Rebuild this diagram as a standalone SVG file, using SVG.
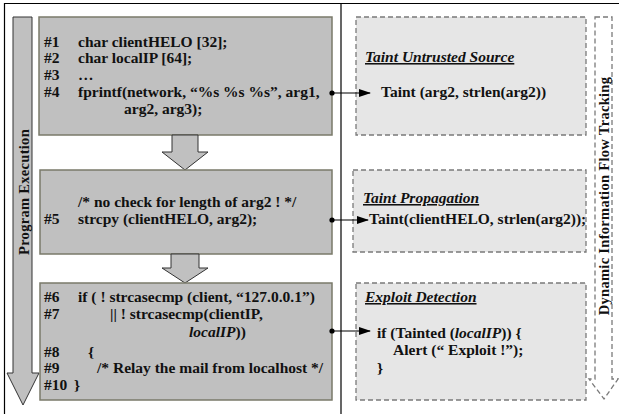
<svg xmlns="http://www.w3.org/2000/svg" width="619" height="414" viewBox="0 0 619 414">
<style>
text{font-family:"Liberation Serif","Times New Roman",serif;font-weight:bold;font-size:15.5px;fill:#111}
.vt{font-size:14.5px}
.code{fill:#c0c0c0;stroke:#7a7a6a;stroke-width:1.5}
.dash{fill:#e6e6e6;stroke:#7a7a7a;stroke-width:1.3;stroke-dasharray:5,3}
.blk{fill:#c0c0c0;stroke:#333;stroke-width:1}
.hd{font-style:italic;text-decoration:underline}
.it{font-style:italic}
.conn{stroke:#000;stroke-width:1.2;fill:none}
</style>
<defs>
<marker id="ah" markerWidth="12" markerHeight="8" refX="11" refY="4" orient="auto" markerUnits="userSpaceOnUse"><path d="M0,0 L12,4 L0,8 Z" fill="#000"/></marker>
<marker id="dot" markerWidth="6" markerHeight="6" refX="3" refY="3" markerUnits="userSpaceOnUse"><circle cx="3" cy="3" r="2.6" fill="#000"/></marker>
</defs>
<rect x="0" y="0" width="619" height="414" fill="#fff"/>
<path d="M4.5,414 V3.5 H619" fill="none" stroke="#000" stroke-width="1.2"/>
<line x1="341" y1="3" x2="341" y2="414" stroke="#000" stroke-width="1.2"/>

<g id="program-execution">
<path class="blk" d="M13,17 H32 V373 H39 L23,405 L7,373 H13 Z"/>
<text class="vt" transform="translate(28.5,192) rotate(-90)" text-anchor="middle" letter-spacing="0.3">Program Execution</text>
</g>

<g id="dift">
<path d="M595,17 H612 V379 H618 L604,399 L589,379 H595 Z" fill="#fff" stroke="#7a7a7a" stroke-width="1.3" stroke-dasharray="5,3"/>
<text class="vt" transform="translate(608.5,196) rotate(-90)" text-anchor="middle" letter-spacing="0.3">Dynamic Information Flow Tracking</text>
</g>

<g id="code1">
<rect class="code" x="39" y="17" width="293" height="118"/>
<text x="44" y="47">#1</text><text x="78" y="47">char  clientHELO [32];</text>
<text x="44" y="63">#2</text><text x="78" y="63">char  localIP [64];</text>
<text x="44" y="80">#3</text><text x="78" y="80">…</text>
<text x="44" y="97">#4</text><text x="78" y="97">fprintf(network, “%s %s %s”, arg1,</text>
<text x="124" y="114">arg2,  arg3);</text>
</g>

<g id="flow1"><path class="blk" d="M172,135 H198 V152 H208 L185,170 L162,152 H172 Z"/></g>

<g id="code2">
<rect class="code" x="40" y="170" width="292" height="84"/>
<text x="78" y="207">/* no check for length of arg2 ! */</text>
<text x="44" y="224">#5</text><text x="78" y="224">strcpy (clientHELO, arg2);</text>
</g>

<g id="flow2"><path class="blk" d="M171,254 H199 V268 H208 L185,283 L162,268 H171 Z"/></g>

<g id="code3">
<rect class="code" x="40" y="283" width="292" height="117"/>
<text x="44" y="302">#6</text><text x="78" y="302">if ( ! strcasecmp (client, “127.0.0.1”)</text>
<text x="44" y="319">#7</text><text x="110" y="319">|| ! strcasecmp(clientIP,</text>
<text x="189" y="337"><tspan class="it">localIP</tspan>))</text>
<text x="44" y="357">#8</text><text x="88" y="357">{</text>
<text x="44" y="373">#9</text><text x="97" y="373">/* Relay the mail from localhost */</text>
<text x="44" y="390">#10</text><text x="74" y="390">}</text>
</g>

<g id="taint-source">
<rect class="dash" x="356" y="17" width="230" height="118"/>
<text x="365" y="62" class="hd">Taint Untrusted Source</text>
<text x="381" y="97">Taint (arg2, strlen(arg2))</text>
</g>

<g id="taint-propagation">
<rect class="dash" x="353" y="170" width="233" height="82"/>
<text x="363" y="203" class="hd">Taint Propagation</text>
<text x="369" y="224">Taint(clientHELO, strlen(arg2));</text>
</g>

<g id="exploit-detection">
<rect class="dash" x="356" y="283" width="230" height="117"/>
<text x="365" y="302" class="hd">Exploit Detection</text>
<text x="377" y="338">if (Tainted (<tspan class="it">localIP</tspan>)) {</text>
<text x="393" y="355">Alert (“ Exploit !”);</text>
<text x="377" y="373">}</text>
</g>

<g id="connectors">
<line class="conn" x1="332" y1="93" x2="370" y2="93" marker-start="url(#dot)" marker-end="url(#ah)"/>
<line class="conn" x1="332" y1="220" x2="368" y2="220" marker-start="url(#dot)" marker-end="url(#ah)"/>
<line class="conn" x1="332" y1="331" x2="370" y2="331" marker-start="url(#dot)" marker-end="url(#ah)"/>
</g>
</svg>
